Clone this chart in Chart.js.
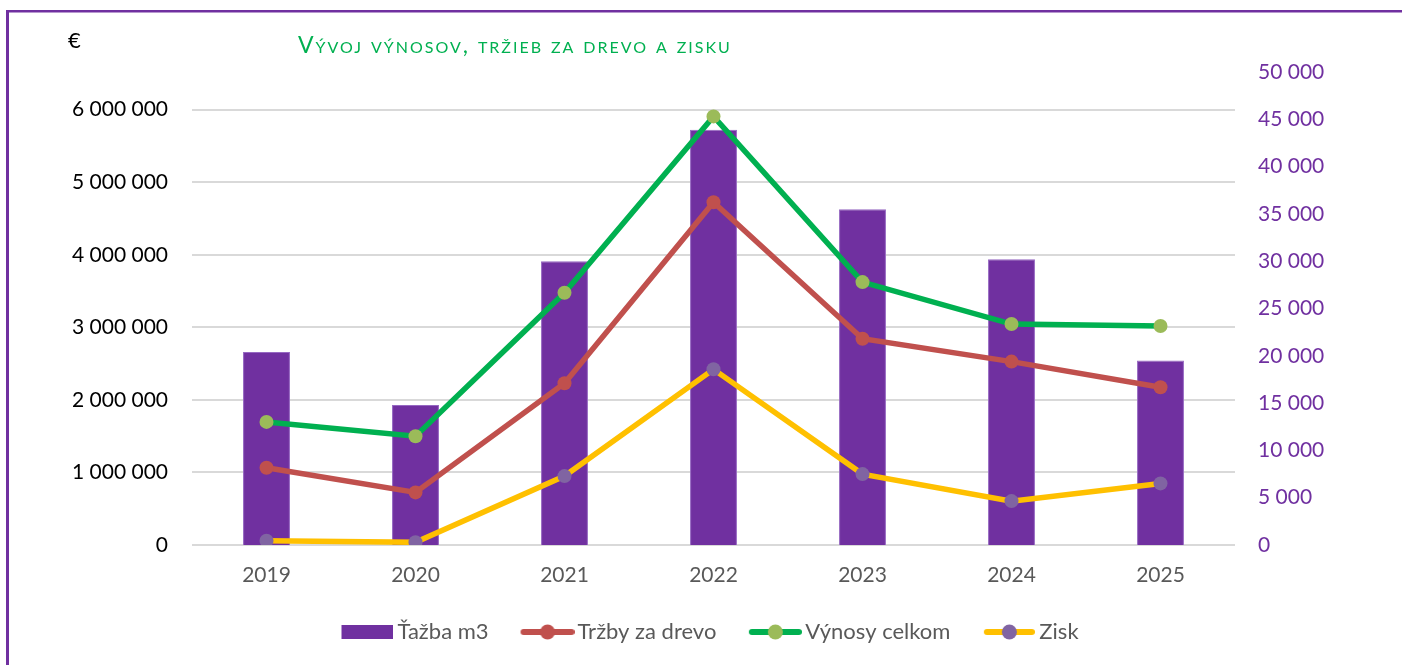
<!DOCTYPE html>
<html lang="sk">
<head>
<meta charset="utf-8">
<title>Vývoj výnosov, tržieb za drevo a zisku</title>
<script src="https://cdn.jsdelivr.net/npm/chart.js@4.4.1/dist/chart.umd.min.js"></script>
<style>
  html, body { margin: 0; padding: 0; background: #fff; }
  #wrap { position: relative; width: 1402px; height: 665px; }
</style>
</head>
<body>
<div id="wrap"><canvas id="grafVynosy" width="1402" height="665"></canvas></div>
<script>
const roky = ['2019', '2020', '2021', '2022', '2023', '2024', '2025'];
const tazba = [20400, 14800, 30000, 43900, 35500, 30200, 19500];
const trzby = [1064000, 725000, 2229000, 4725000, 2844000, 2528000, 2174000];
const vynosy = [1697000, 1500000, 3477000, 5908000, 3624000, 3046000, 3018000];
const zisk = [60000, 37000, 950000, 2422000, 977000, 605000, 849000];
const eurTicky = [0, 1000000, 2000000, 3000000, 4000000, 5000000, 6000000];

const fialova = '#7030A0';
const FONT = 'Lato';

function medzery(v) {
    return String(Math.round(v)).replace(/\B(?=(\d{3})+(?!\d))/g, ' ');
}

// obrazok do legendy, vlavo prazdne miesto aby bol text blizsie k vzorke
function vzorka(typ, farba, farbaBodu, sirka) {
    const c = document.createElement('canvas');
    c.width = sirka + 7;
    c.height = 16;
    const g = c.getContext('2d');
    if (typ === 'bar') {
        g.fillStyle = farba;
        g.fillRect(7, 1, sirka, 14);
    } else {
        g.strokeStyle = farba;
        g.lineWidth = 6;
        g.lineCap = 'round';
        g.beginPath();
        g.moveTo(10, 8);
        g.lineTo(7 + sirka - 3, 8);
        g.stroke();
        g.fillStyle = farbaBodu;
        g.beginPath();
        g.arc(7 + sirka / 2, 8, 7.5, 0, Math.PI * 2);
        g.fill();
    }
    return c;
}

const ramik = {
    id: 'ramik',
    beforeDraw(chart) {
        const ctx = chart.ctx;
        ctx.save();
        ctx.fillStyle = fialova;
        ctx.fillRect(6, 10, 1396, 2.5);
        ctx.fillRect(6, 10, 3, 655);
        ctx.restore();
    },
    afterDraw(chart) {
        const ctx = chart.ctx;
        ctx.save();
        ctx.textBaseline = 'alphabetic';
        ctx.fillStyle = '#000';
        ctx.font = '22px ' + FONT;
        ctx.fillText('€', 68, 48);
        ctx.fillStyle = '#00B050';
        ctx.font = 'small-caps 23px ' + FONT;
        ctx.letterSpacing = '2px';
        ctx.fillText('Vývoj výnosov, tržieb za drevo a zisku', 298, 52.5);
        ctx.restore();
    }
};

const ctx = document.getElementById('grafVynosy').getContext('2d');
new Chart(ctx, {
    type: 'bar',
    data: {
        labels: roky,
        datasets: [{
            label: 'Ťažba m3',
            data: tazba,
            yAxisID: 'y1',
            backgroundColor: fialova,
            borderColor: '#9668C2',
            borderWidth: 1,
            categoryPercentage: 1,
            barPercentage: 0.315,
            order: 4,
            vzor: vzorka('bar', fialova, fialova, 52)
        }, {
            type: 'line',
            label: 'Tržby za drevo',
            data: trzby,
            yAxisID: 'y',
            borderColor: '#C0504D',
            backgroundColor: '#C0504D',
            borderWidth: 5.5,
            pointRadius: 7,
            pointBorderWidth: 0,
            pointBackgroundColor: '#C0504D',
            order: 3,
            vzor: vzorka('line', '#C0504D', '#C0504D', 54)
        }, {
            type: 'line',
            label: 'Výnosy celkom',
            data: vynosy,
            yAxisID: 'y',
            borderColor: '#00B050',
            backgroundColor: '#9BBB59',
            borderWidth: 5.5,
            pointRadius: 7,
            pointBorderWidth: 0,
            pointBackgroundColor: '#9BBB59',
            order: 2,
            vzor: vzorka('line', '#00B050', '#9BBB59', 53)
        }, {
            type: 'line',
            label: 'Zisk',
            data: zisk,
            yAxisID: 'y',
            borderColor: '#FFC000',
            backgroundColor: '#8064A2',
            borderWidth: 5.5,
            pointRadius: 7,
            pointBorderWidth: 0,
            pointBackgroundColor: '#8064A2',
            order: 1,
            vzor: vzorka('line', '#FFC000', '#8064A2', 51)
        }]
    },
    options: {
        responsive: false,
        animation: false,
        layout: { padding: { top: 72, bottom: 12, left: 18, right: 0 } },
        plugins: {
            tooltip: { enabled: false },
            legend: {
                position: 'bottom',
                labels: {
                    usePointStyle: true,
                    padding: 33,
                    color: '#595959',
                    font: { family: FONT, size: 22 },
                    sort: (a, b) => a.datasetIndex - b.datasetIndex,
                    generateLabels(chart) {
                        return chart.data.datasets.map((ds, i) => ({
                            text: ds.label,
                            datasetIndex: i,
                            pointStyle: ds.vzor,
                            fillStyle: ds.backgroundColor,
                            strokeStyle: ds.borderColor,
                            lineWidth: 0,
                            hidden: false,
                            fontColor: '#595959'
                        }));
                    },
                    pointStyleWidth: 45
                }
            }
        },
        scales: {
            x: {
                grid: { display: false, drawTicks: false },
                border: { display: false },
                ticks: { color: '#595959', font: { family: FONT, size: 21 }, padding: 18 },
                afterFit(scale) { scale.height = 43; }
            },
            y: {
                position: 'left',
                min: 0,
                max: 6520000,
                ticks: {
                    color: '#000',
                    padding: 24,
                    autoSkip: false,
                    font: { family: FONT, size: 21 },
                    callback: v => medzery(v)
                },
                afterBuildTicks(scale) {
                    scale.ticks = eurTicky.map(v => ({ value: v }));
                },
                grid: { color: '#D9D9D9', lineWidth: 2, drawTicks: false },
                border: { display: false },
                afterFit(scale) { scale.width = 174; }
            },
            y1: {
                position: 'right',
                min: 0,
                max: 50000,
                ticks: {
                    stepSize: 5000,
                    color: fialova,
                    padding: 23,
                    font: { family: FONT, size: 21 },
                    callback: v => medzery(v)
                },
                grid: { display: false, drawTicks: false },
                border: { display: false },
                afterFit(scale) { scale.width = 167; }
            }
        }
    },
    plugins: [ramik]
});
</script>
</body>
</html>
